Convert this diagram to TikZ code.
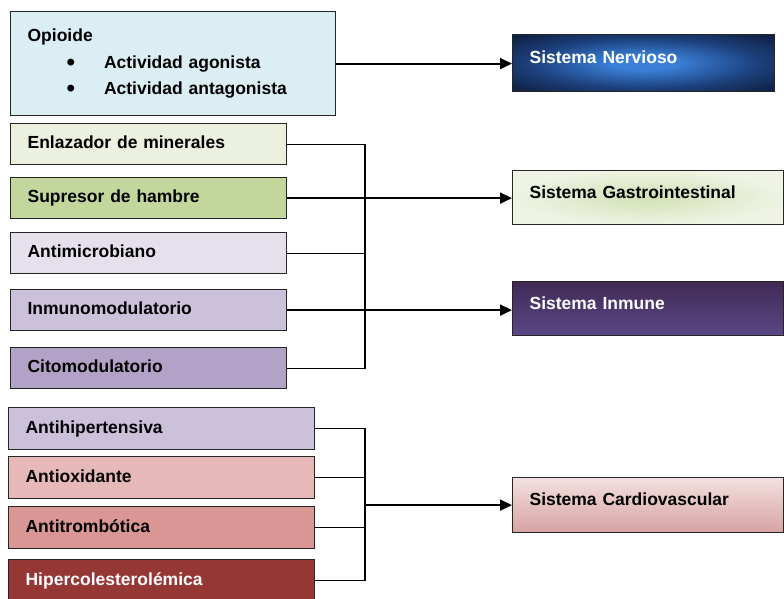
\documentclass[tikz,border=0pt]{standalone}
\usepackage{fontspec}
\setmainfont{Liberation Sans}
\usetikzlibrary{arrows.meta}

\definecolor{opioidefill}{HTML}{DAEEF3}
\definecolor{enlazfill}{HTML}{EBF1DE}
\definecolor{supresorfill}{HTML}{C3D69B}
\definecolor{antimicfill}{HTML}{E5E0EC}
\definecolor{inmunofill}{HTML}{CCC1DA}
\definecolor{citomodfill}{HTML}{B3A2C7}
\definecolor{antioxfill}{HTML}{E6B9B8}
\definecolor{antitromfill}{HTML}{D99694}
\definecolor{hipercfill}{HTML}{953735}
\definecolor{nervdark}{HTML}{0B1630}
\definecolor{nervmid}{HTML}{1C3F7A}
\definecolor{nervglow}{HTML}{3A80D8}
\definecolor{gastroin}{HTML}{D3E1B6}
\definecolor{gastroout}{HTML}{EEF3E3}
\definecolor{inmunetop}{HTML}{3F2A55}
\definecolor{inmunebot}{HTML}{5C4787}
\definecolor{cardiotop}{HTML}{F3E0E0}
\definecolor{cardiobot}{HTML}{D7A2A2}

\pgfdeclareradialshading{brillonerv}{\pgfpoint{0bp}{0bp}}{color(0bp)=(nervglow); color(6bp)=(nervglow); color(22bp)=(nervmid); color(38bp)=(nervdark); color(50bp)=(nervdark)}

\newcommand{\vineta}{\raisebox{-2pt}{\fontsize{24}{26.5}\selectfont\textbullet}}

\begin{document}
\begin{tikzpicture}[x=1pt, y=-1pt,
    caja/.style={draw=black!85, line width=1.2pt, anchor=north west, inner xsep=17pt,
        align=left, font=\bfseries\fontsize{17.5}{21}\selectfont},
    efecto/.style={caja, text width=242pt, minimum height=41pt, text height=13pt, text depth=3.5pt},
    cardiaca/.style={efecto, text width=272pt, minimum height=42pt},
    sistema/.style={caja, text width=237pt, minimum height=54pt, text height=13pt, text depth=12pt},
    linea/.style={black, line width=1.2pt},
    flecha/.style={black, line width=1.8pt, -{Triangle[length=12pt,width=11pt]}}]

    \useasboundingbox (0,0) rectangle (784,598);

    % propiedades
    \node[caja, fill=opioidefill, text width=291pt, minimum height=104pt,
        font=\bfseries\fontsize{17.5}{26.5}\selectfont] (opioide) at (10,11)
        {Opioide\\
        \hspace*{39pt}\vineta\hspace*{29pt}Actividad agonista\\
        \hspace*{39pt}\vineta\hspace*{29pt}Actividad antagonista};
    \node[efecto, fill=enlazfill] (enlaz) at (10,123) {Enlazador de minerales};
    \node[efecto, fill=supresorfill] (supresor) at (10,177) {Supresor de hambre};
    \node[efecto, fill=antimicfill] (antimic) at (10,232) {Antimicrobiano};
    \node[efecto, fill=inmunofill] (inmuno) at (10,289) {Inmunomodulatorio};
    \node[efecto, fill=citomodfill] (citomod) at (10,347) {Citomodulatorio};

    \node[cardiaca, fill=inmunofill] (antihip) at (8,407) {Antihipertensiva};
    \node[cardiaca, fill=antioxfill] (antiox) at (8,456) {Antioxidante};
    \node[cardiaca, fill=antitromfill] (antitrom) at (8,506) {Antitrombótica};
    \node[cardiaca, fill=hipercfill, text=white] (hiperc) at (8,559) {Hipercolesterolémica};

    % sistemas
    \node[sistema, text width=228pt, minimum height=57pt, shading=brillonerv,
        text=white] (nervioso) at (512,34) {Sistema Nervioso};
    \node[sistema, shading=radial, inner color=gastroin, outer color=gastroout] (gastro) at (512,170)
        {Sistema Gastrointestinal};
    \node[sistema, top color=inmunetop, bottom color=inmunebot, text=white] (inmune) at (512,281)
        {Sistema Inmune};
    \node[sistema, minimum height=55pt, top color=cardiotop, bottom color=cardiobot] (cardio) at (512,477)
        {Sistema Cardiovascular};

    \coordinate (busA) at (365,0);
    \coordinate (busB) at (365,0);

    \draw[flecha] (opioide.east) -- (opioide.east -| nervioso.west);

    \draw[linea] (enlaz.east) -- (enlaz.east -| busA) -- (citomod.east -| busA) -- (citomod.east);
    \draw[linea] (antimic.east) -- (antimic.east -| busA);
    \draw[flecha] (supresor.east) -- (supresor.east -| gastro.west);
    \draw[flecha] (inmuno.east) -- (inmuno.east -| inmune.west);

    \draw[linea] (antihip.east) -- (antihip.east -| busB) -- (hiperc.east -| busB) -- (hiperc.east);
    \draw[linea] (antiox.east) -- (antiox.east -| busB);
    \draw[linea] (antitrom.east) -- (antitrom.east -| busB);
    \draw[flecha] (cardio.west -| busB) -- (cardio.west);
\end{tikzpicture}
\end{document}
